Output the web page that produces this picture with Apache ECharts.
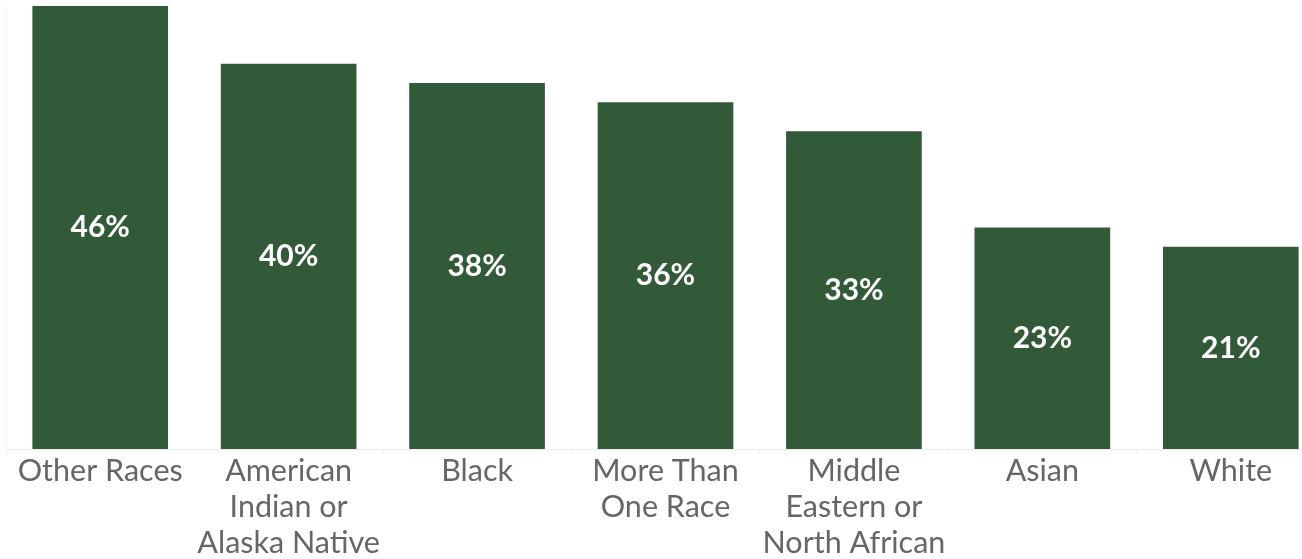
<!DOCTYPE html>
<html>
<head>
<meta charset="utf-8">
<script src="https://cdn.jsdelivr.net/npm/echarts@6/dist/echarts.min.js"></script>
<style>
  html, body { margin: 0; padding: 0; background: #ffffff; overflow: hidden; }
  /* the plot runs a little past the right edge of the page */
  #chart { width: 1325px; height: 559px; }
</style>
</head>
<body>
<div id="chart"></div>
<script>
// Share of each group, in percent
const categories = [
  'Other Races',
  'American\nIndian or\nAlaska Native',
  'Black',
  'More Than\nOne Race',
  'Middle\nEastern or\nNorth African',
  'Asian',
  'White'
];
const values = [46, 40, 38, 36, 33, 23, 21];

const chart = echarts.init(document.getElementById('chart'), null, { renderer: 'canvas' });

chart.setOption({
  backgroundColor: '#ffffff',
  animation: false,
  grid: {
    left: 6, right: 0, top: 6, height: 443,
    containLabel: false,
    outerBoundsMode: 'none'
  },
  xAxis: {
    type: 'category',
    data: categories,
    axisLine: { show: true, lineStyle: { color: '#ececec', width: 1 } },
    axisTick: { show: true, length: 4, lineStyle: { color: '#ececec' } },
    axisLabel: {
      color: '#666666',
      fontFamily: 'Lato',
      fontSize: 30.5,
      lineHeight: 36,
      margin: 4,
      interval: 0
    }
  },
  yAxis: {
    type: 'value',
    min: 0,
    max: 46,
    axisLine: { show: true, lineStyle: { color: '#f2f2f2', width: 1 } },
    axisTick: { show: false },
    axisLabel: { show: false },
    splitLine: { show: false }
  },
  series: [{
    type: 'bar',
    data: values,
    barCategoryGap: '28%',
    itemStyle: { color: '#335a38' },
    label: {
      show: true,
      position: 'inside',
      formatter: p => p.value + '%',
      color: '#ffffff',
      fontFamily: 'Lato',
      fontWeight: 'bold',
      fontSize: 30
    }
  }]
});
</script>
</body>
</html>
